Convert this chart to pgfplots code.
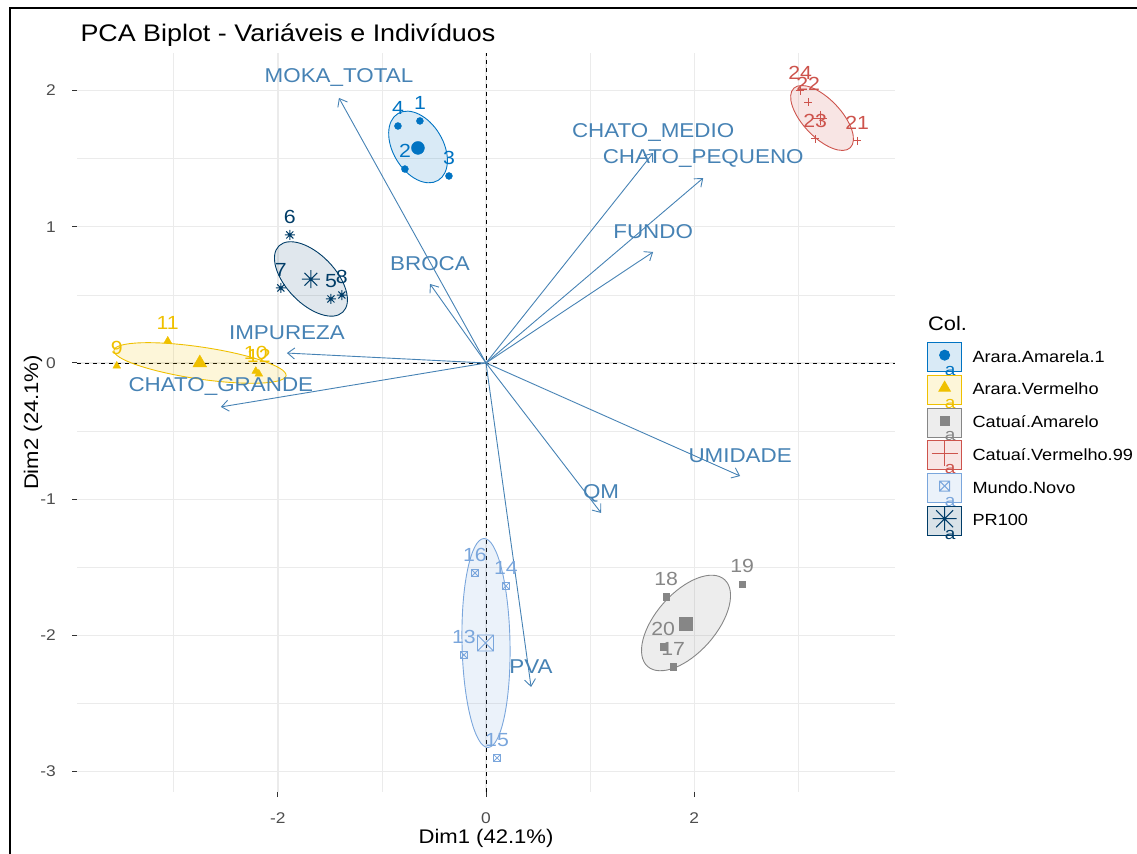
\documentclass[border=0pt]{standalone}
\usepackage{fontspec}
\setmainfont{Liberation Sans}[FakeStretch=1.12]
\usepackage{pgfplots}
\pgfplotsset{compat=1.18}
\usetikzlibrary{arrows.meta}

\definecolor{cblue}{HTML}{0073C2}
\definecolor{cyellow}{HTML}{EFC000}
\definecolor{cgray}{HTML}{868686}
\definecolor{cred}{HTML}{CD534C}
\definecolor{clblue}{HTML}{7AA6DC}
\definecolor{cdblue}{HTML}{003C67}
\definecolor{steel}{HTML}{4682B4}
\definecolor{gridc}{HTML}{EBEBEB}
\definecolor{tickc}{HTML}{333333}
\definecolor{ticklab}{HTML}{4D4D4D}

\pgfdeclareplotmark{star8}{%
 \pgfpathmoveto{\pgfqpoint{-\pgfplotmarksize}{0pt}}\pgfpathlineto{\pgfqpoint{\pgfplotmarksize}{0pt}}%
 \pgfpathmoveto{\pgfqpoint{0pt}{-\pgfplotmarksize}}\pgfpathlineto{\pgfqpoint{0pt}{\pgfplotmarksize}}%
 \pgfpathmoveto{\pgfqpoint{-0.707\pgfplotmarksize}{-0.707\pgfplotmarksize}}\pgfpathlineto{\pgfqpoint{0.707\pgfplotmarksize}{0.707\pgfplotmarksize}}%
 \pgfpathmoveto{\pgfqpoint{-0.707\pgfplotmarksize}{0.707\pgfplotmarksize}}\pgfpathlineto{\pgfqpoint{0.707\pgfplotmarksize}{-0.707\pgfplotmarksize}}%
 \pgfusepathqstroke}
\pgfdeclareplotmark{boxx}{%
 \pgfpathrectangle{\pgfqpoint{-\pgfplotmarksize}{-\pgfplotmarksize}}{\pgfqpoint{2\pgfplotmarksize}{2\pgfplotmarksize}}%
 \pgfpathmoveto{\pgfqpoint{-\pgfplotmarksize}{-\pgfplotmarksize}}\pgfpathlineto{\pgfqpoint{\pgfplotmarksize}{\pgfplotmarksize}}%
 \pgfpathmoveto{\pgfqpoint{-\pgfplotmarksize}{\pgfplotmarksize}}\pgfpathlineto{\pgfqpoint{\pgfplotmarksize}{-\pgfplotmarksize}}%
 \pgfusepathqstroke}

\newcommand{\legimg}[3]{\addlegendimage{legend image code/.code={%
  \draw[draw=#1, fill=#1, fill opacity=0.15, line width=0.9bp] (0bp,-14.5bp) rectangle (34bp,14.5bp);
  \draw[color=#1, mark=#2, mark size=#3, line width=1bp, mark options={fill=#1}] plot coordinates {(17bp,2bp)};
  \node[overlay, text=#1, inner sep=0pt, font=\fontsize{17bp}{18bp}\selectfont] at (17bp,-14.5bp) {a};}}}

\newcommand{\ptfont}{\fontsize{19bp}{21bp}\selectfont}
\newcommand{\varfont}{\fontsize{20bp}{22bp}\selectfont}

\begin{document}
\begin{tikzpicture}
\useasboundingbox (0bp,0bp) rectangle (1137bp,854bp);
\begin{axis}[
  at={(77bp,62bp)}, anchor=south west, scale only axis,
  width=818bp, height=739bp,
  xmin=-3.93, xmax=3.93, ymin=-3.15, ymax=2.276,
  xtick={-2,0,2}, xticklabels={-2,0,2},
  ytick={-3,-2,-1,0,1,2}, yticklabels={-3,-2,-1,0,1,2},
  minor xtick={-3,-1,1,3}, minor ytick={-2.5,-1.5,-0.5,0.5,1.5},
  grid=both,
  major grid style={color=gridc, line width=1.3bp},
  minor grid style={color=gridc, line width=0.7bp},
  axis line style={draw=none},
  tick align=outside, tick pos=left,
  major tick length=5bp, minor tick length=0bp,
  every tick/.style={color=tickc, line width=1bp},
  ticklabel style={font=\fontsize{15.5bp}{17bp}\selectfont, text=ticklab, inner sep=0pt},
  xticklabel style={anchor=north, yshift=-15bp},
  yticklabel style={anchor=east, xshift=-16bp},
  xlabel={Dim1 (42.1\%)}, ylabel={Dim2 (24.1\%)},
  label style={font=\fontsize{19.7bp}{22bp}\selectfont},
  xlabel style={at={(axis description cs:0.5,-0.063)}, anchor=center},
  ylabel style={at={(axis description cs:-0.0538,0.5)}, anchor=center},
  clip=false,
  legend style={at={(axis description cs:1.0391,0.6089)}, anchor=north west,
    draw=none, fill=none, inner sep=0pt, row sep=2.8bp, column sep=10.5bp,
    nodes={inner sep=0pt}, cells={anchor=west},
    font=\fontsize{16.2bp}{19bp}\selectfont},
]
% reference lines
\draw[black, line width=0.8bp, dash pattern=on 4bp off 4bp] (axis cs:0,-3.15) -- (axis cs:0,2.276);
\draw[black, line width=0.8bp, dash pattern=on 4bp off 4bp] (axis cs:-3.93,0) -- (axis cs:3.93,0);

% confidence ellipses
\draw[cblue, fill=cblue, fill opacity=0.15, line width=0.9bp, rotate around={-59:(axis cs:-0.653,1.586)}] (axis cs:-0.653,1.586) ellipse [x radius=39bp, y radius=25bp];
\draw[cdblue, fill=cdblue, fill opacity=0.12, line width=0.9bp, rotate around={-46:(axis cs:-1.682,0.617)}] (axis cs:-1.682,0.617) ellipse [x radius=46bp, y radius=24.5bp];
\draw[cyellow, fill=cyellow, fill opacity=0.15, line width=0.9bp, rotate around={-8.4:(axis cs:-2.748,0.0)}] (axis cs:-2.748,0.0) ellipse [x radius=87bp, y radius=16bp];
\draw[cred, fill=cred, fill opacity=0.15, line width=0.9bp, rotate around={-46.5:(axis cs:3.229,1.799)}] (axis cs:3.229,1.799) ellipse [x radius=41bp, y radius=19bp];
\draw[cgray, fill=cgray, fill opacity=0.15, line width=0.9bp, rotate around={48.5:(axis cs:1.922,-1.909)}] (axis cs:1.922,-1.909) ellipse [x radius=58bp, y radius=30bp];
\draw[clblue, fill=clblue, fill opacity=0.15, line width=0.9bp, rotate around={91.1:(axis cs:0.0,-2.056)}] (axis cs:0.0,-2.056) ellipse [x radius=104.5bp, y radius=24bp];

% individuals
\addplot[forget plot, only marks, color=cblue, mark=*, mark size=3.5bp, point meta=explicit symbolic, nodes near coords,
  every node near coord/.append style={anchor=center, yshift=18bp, font=\ptfont, text=cblue}]
  coordinates {(-0.635,1.777) [1] (-0.779,1.424) [2] (-0.356,1.373) [3] (-0.846,1.740) [4]};
\addplot[forget plot, only marks, color=cyellow, mark=triangle*, mark size=4.5bp, point meta=explicit symbolic, nodes near coords,
  every node near coord/.append style={anchor=center, yshift=18bp, font=\ptfont, text=cyellow}]
  coordinates {(-3.548,-0.022) [9] (-2.212,-0.060) [10] (-3.058,0.162) [11] (-2.183,-0.080) [12]};
\addplot[forget plot, only marks, color=cgray, mark=square*, mark size=3.3bp, point meta=explicit symbolic, nodes near coords,
  every node near coord/.append style={anchor=center, yshift=18bp, font=\ptfont, text=cgray}]
  coordinates {(1.798,-2.232) [17] (1.731,-1.718) [18] (2.462,-1.623) [19] (1.702,-2.085) [20]};
\addplot[forget plot, only marks, color=cred, mark=+, mark size=4bp, mark options={line width=1bp}, point meta=explicit symbolic, nodes near coords,
  every node near coord/.append style={anchor=center, yshift=18bp, font=\ptfont, text=cred}]
  coordinates {(3.567,1.630) [21] (3.096,1.916) [22] (3.163,1.645) [23] (3.019,1.997) [24]};
\addplot[forget plot, only marks, color=clblue, mark=boxx, mark size=3.5bp, mark options={line width=0.8bp}, point meta=explicit symbolic, nodes near coords,
  every node near coord/.append style={anchor=center, yshift=18bp, font=\ptfont, text=clblue}]
  coordinates {(-0.212,-2.144) [13] (0.192,-1.637) [14] (0.106,-2.900) [15] (-0.106,-1.542) [16]};
\addplot[forget plot, only marks, color=cdblue, mark=star8, mark size=5bp, mark options={line width=1bp}, point meta=explicit symbolic, nodes near coords,
  every node near coord/.append style={anchor=center, yshift=18bp, font=\ptfont, text=cdblue}]
  coordinates {(-1.490,0.470) [5] (-1.885,0.940) [6] (-1.971,0.551) [7] (-1.385,0.499) [8]};

% group centres
\addplot[forget plot, only marks, color=cblue, mark=*, mark size=6.5bp] coordinates {(-0.654,1.579)};
\addplot[forget plot, only marks, color=cyellow, mark=triangle*, mark size=8bp] coordinates {(-2.750,0.000)};
\addplot[forget plot, only marks, color=cgray, mark=square*, mark size=6.5bp] coordinates {(1.923,-1.915)};
\addplot[forget plot, only marks, color=cred, mark=+, mark size=7bp, mark options={line width=1bp}] coordinates {(3.211,1.797)};
\addplot[forget plot, only marks, color=clblue, mark=boxx, mark size=8bp, mark options={line width=0.9bp}] coordinates {(-0.005,-2.056)};
\addplot[forget plot, only marks, color=cdblue, mark=star8, mark size=9bp, mark options={line width=1bp}] coordinates {(-1.683,0.615)};

% variables
\addplot[forget plot, steel, line width=0.9bp, -{Straight Barb[length=7bp,width=11bp]}, quiver={u=\thisrow{u}, v=\thisrow{v}}]
  table {
x y u v
0 0 -1.413 1.946
0 0 -0.538 0.580
0 0 1.606 1.542
0 0 2.087 1.358
0 0 1.606 0.815
0 0 2.442 -0.830
0 0 1.106 -1.101
0 0 0.433 -2.379
0 0 -1.913 0.073
0 0 -2.548 -0.323
};
\addplot[forget plot, draw=none, mark=none, point meta=explicit symbolic, nodes near coords,
  every node near coord/.append style={anchor=center, yshift=20bp, font=\varfont, text=steel}]
  coordinates {(-1.413,1.946) [MOKA\_TOTAL] (-0.538,0.580) [BROCA] (1.606,1.542) [CHATO\_MEDIO]
    (2.087,1.358) [CHATO\_PEQUENO] (1.606,0.815) [FUNDO] (2.442,-0.830) [UMIDADE]
    (1.106,-1.101) [QM] (0.433,-2.379) [PVA] (-1.913,0.073) [IMPUREZA] (-2.548,-0.323) [CHATO\_GRANDE]};

% legend
\legimg{cblue}{*}{5bp}
\addlegendentry{Arara.Amarela.1}
\legimg{cyellow}{triangle*}{6.5bp}
\addlegendentry{Arara.Vermelho}
\legimg{cgray}{square*}{4.5bp}
\addlegendentry{Catuaí.Amarelo}
\legimg{cred}{+}{13bp}
\addlegendentry{Catuaí.Vermelho.99}
\legimg{clblue}{boxx}{5bp}
\addlegendentry{Mundo.Novo}
\legimg{cdblue}{star8}{12bp}
\addlegendentry{PR100}
\end{axis}
\node[anchor=base west, font=\fontsize{24bp}{28bp}\selectfont] at (77bp,812bp) {PCA Biplot - Variáveis e Indivíduos};
\node[anchor=west, inner sep=0pt, font=\fontsize{19.5bp}{22bp}\selectfont] at (928bp,530bp) {Col.};
\draw[black, line width=2bp] (10bp,0bp) -- (10bp,846bp) -- (1137bp,846bp);
\end{tikzpicture}
\end{document}
